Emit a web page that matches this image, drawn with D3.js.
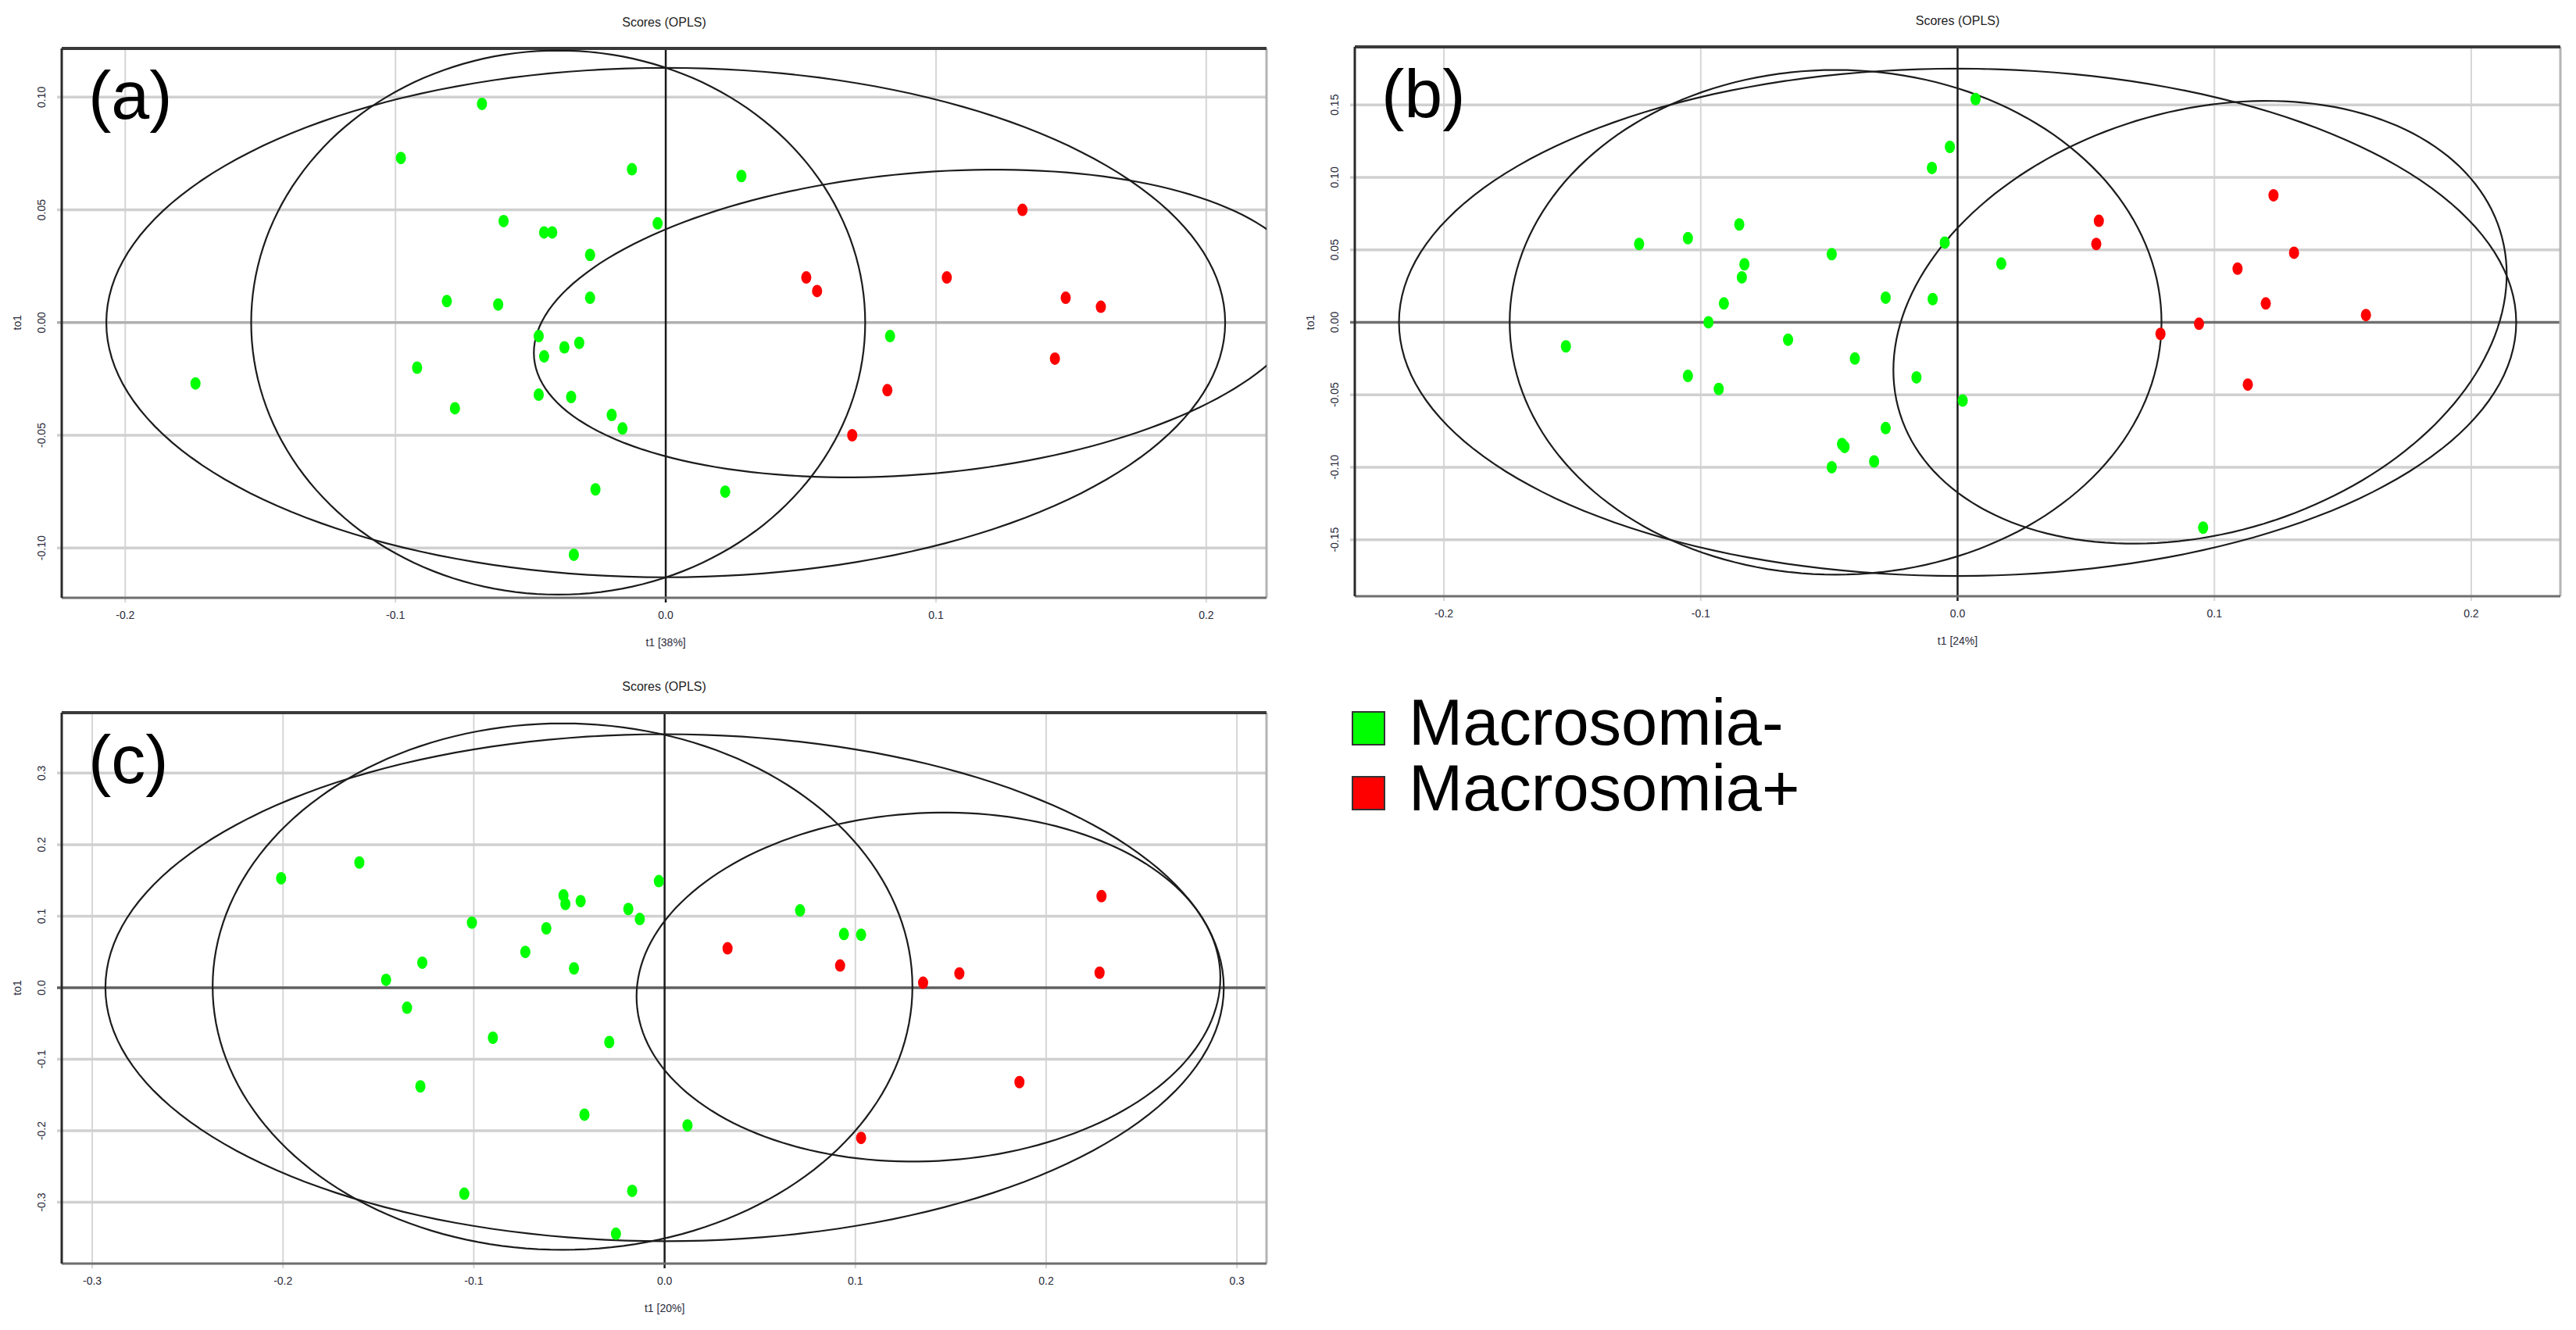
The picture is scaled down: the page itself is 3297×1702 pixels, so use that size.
<!DOCTYPE html>
<html>
<head>
<meta charset="utf-8">
<script src="https://cdn.jsdelivr.net/npm/d3@7"></script>
<style>
  html, body { margin: 0; padding: 0; background: #fff; }
  svg { display: block; font-family: "Liberation Sans", Arial, sans-serif; }
</style>
</head>
<body>
<div id="chart"></div>
<script>
// ---- data (t1, to1 scores) ----
const aGreen = [[-0.068,0.097],[-0.098,0.073],[-0.0125,0.068],[0.028,0.065],[-0.060,0.045],[-0.045,0.040],
  [-0.042,0.040],[-0.003,0.044],[-0.028,0.030],[-0.081,0.0095],[-0.062,0.008],[-0.028,0.011],[-0.047,-0.006],
  [-0.0375,-0.011],[-0.032,-0.009],[-0.045,-0.015],[-0.092,-0.020],[-0.174,-0.027],[-0.078,-0.038],
  [-0.047,-0.032],[-0.035,-0.033],[-0.020,-0.041],[-0.016,-0.047],[0.083,-0.006],[-0.026,-0.074],
  [0.022,-0.075],[-0.034,-0.103]];
const aRed = [[0.132,0.050],[0.052,0.020],[0.056,0.014],[0.104,0.020],[0.148,0.011],[0.161,0.007],
  [0.144,-0.016],[0.082,-0.030],[0.069,-0.050]];

const bGreen = [[0.007,0.154],[-0.003,0.121],[-0.010,0.1065],[-0.085,0.0675],[-0.105,0.058],[-0.124,0.054],
  [-0.005,0.055],[-0.049,0.047],[-0.083,0.040],[0.017,0.0405],[-0.084,0.031],[-0.091,0.013],[-0.028,0.017],
  [-0.0097,0.016],[-0.097,0.000],[-0.1525,-0.0166],[-0.066,-0.012],[-0.040,-0.025],[-0.105,-0.037],
  [-0.093,-0.046],[-0.016,-0.038],[0.002,-0.054],[-0.028,-0.073],[-0.045,-0.084],[-0.044,-0.086],
  [-0.049,-0.100],[-0.0325,-0.096],[0.0956,-0.1417]];
const bRed = [[0.123,0.0876],[0.055,0.070],[0.054,0.054],[0.131,0.048],[0.109,0.037],[0.120,0.013],
  [0.159,0.005],[0.079,-0.008],[0.094,-0.001],[0.113,-0.043]];

const cGreen = [[-0.201,0.153],[-0.160,0.175],[-0.003,0.149],[-0.053,0.129],[-0.052,0.117],[-0.044,0.121],
  [-0.019,0.110],[-0.013,0.096],[-0.101,0.091],[-0.062,0.083],[0.071,0.108],[0.094,0.075],[0.103,0.074],
  [-0.073,0.050],[-0.127,0.035],[-0.0475,0.027],[-0.146,0.011],[-0.135,-0.028],[-0.090,-0.070],
  [-0.029,-0.076],[-0.128,-0.138],[-0.042,-0.1775],[0.012,-0.1925],[-0.105,-0.288],[-0.017,-0.284],
  [-0.0255,-0.344]];
const cRed = [[0.229,0.128],[0.033,0.055],[0.092,0.031],[0.1545,0.020],[0.228,0.021],[0.1355,0.007],
  [0.186,-0.132],[0.103,-0.210]];

// ellipses: centre (cx,cy), horizontal half-extent ux with its y offset uy, vertical conjugate vy
const aEllipses = [
  { cx: 0.0, cy: 0.0, ux: 0.207, uy: 0.0, vy: 0.113 },
  { cx: -0.0398, cy: 0.0, ux: 0.1136, uy: 0.0, vy: 0.1207 },
  { cx: 0.0945, cy: -0.0004, ux: 0.1433, uy: 0.0130, vy: 0.0670 }
];
const bEllipses = [
  { cx: 0.0, cy: 0.0, ux: 0.2175, uy: 0.0, vy: 0.175 },
  { cx: -0.0475, cy: 0.0, ux: 0.1269, uy: 0.0, vy: 0.1741 },
  { cx: 0.0944, cy: 0.0, ux: 0.1194, uy: 0.0331, vy: 0.1491 }
];
const cEllipses = [
  { cx: 0.0, cy: 0.0, ux: 0.2931, uy: 0.0, vy: 0.3544 },
  { cx: -0.0535, cy: 0.0015, ux: 0.1834, uy: 0.0, vy: 0.368 },
  { cx: 0.1383, cy: 0.0009, ux: 0.153, uy: 0.0132, vy: 0.2436 }
];

const abXTicks = [-0.2, -0.1, 0.0, 0.1, 0.2];
const aYTicks = [-0.10, -0.05, 0.00, 0.05, 0.10];
const bYTicks = [-0.15, -0.10, -0.05, 0.00, 0.05, 0.10, 0.15];
const cXTicks = [-0.3, -0.2, -0.1, 0.0, 0.1, 0.2, 0.3];
const cYTicks = [-0.3, -0.2, -0.1, 0.0, 0.1, 0.2, 0.3];

const xTitles = ["t1 [38%]", "t1 [24%]", "t1 [20%]"];
const legendLabels = ["Macrosomia-", "Macrosomia+"];

// ---- layout ----
const W = 3297, H = 1702;
const GREEN = "#00ff00", RED = "#ff0000";

const panels = [
  { tag: "(a)", box: { l: 79, t: 62, r: 1621, b: 765 }, xd: [-0.2235, 0.2223], yd: [-0.1221, 0.1216],
    xt: abXTicks, yt: aYTicks, yfmt: ".2f", xTitle: xTitles[0], zeroY: "#b0b0b0",
    green: aGreen, red: aRed, ells: aEllipses },
  { tag: "(b)", box: { l: 1734, t: 60, r: 3277, b: 763 }, xd: [-0.2347, 0.2347], yd: [-0.189, 0.190],
    xt: abXTicks, yt: bYTicks, yfmt: ".2f", xTitle: xTitles[1], zeroY: "#707070",
    green: bGreen, red: bRed, ells: bEllipses },
  { tag: "(c)", box: { l: 79, t: 912, r: 1621, b: 1617 }, xd: [-0.316, 0.3155], yd: [-0.3857, 0.3845],
    xt: cXTicks, yt: cYTicks, yfmt: ".1f", xTitle: xTitles[2], zeroY: "#606060",
    green: cGreen, red: cRed, ells: cEllipses }
];

const svg = d3.select("#chart").append("svg")
  .attr("width", W).attr("height", H)
  .attr("viewBox", `0 0 ${W} ${H}`);

svg.append("rect").attr("width", W).attr("height", H).attr("fill", "#fff");

panels.forEach((p, i) => drawPanel(p, i));
drawLegend();

function drawPanel(p, i) {
  const bx = p.box;
  const x = d3.scaleLinear().domain(p.xd).range([bx.l, bx.r]);
  const y = d3.scaleLinear().domain(p.yd).range([bx.b, bx.t]);
  const g = svg.append("g").attr("class", "panel");

  g.append("clipPath").attr("id", "clip" + i)
    .append("rect")
      .attr("x", bx.l).attr("y", bx.t)
      .attr("width", bx.r - bx.l).attr("height", bx.b - bx.t);

  // grid
  g.selectAll(".vgrid").data(p.xt.filter(d => d !== 0)).enter()
    .append("line")
      .attr("x1", d => x(d)).attr("x2", d => x(d))
      .attr("y1", bx.t).attr("y2", bx.b + 6)
      .attr("stroke", "#d6d6d6").attr("stroke-width", 2);

  g.selectAll(".hgrid").data(p.yt.filter(d => d !== 0)).enter()
    .append("line")
      .attr("x1", bx.l - 6).attr("x2", bx.r)
      .attr("y1", d => y(d)).attr("y2", d => y(d))
      .attr("stroke", "#d0d0d0").attr("stroke-width", 3.5);

  g.append("line")
    .attr("x1", bx.l - 6).attr("x2", bx.r)
    .attr("y1", y(0)).attr("y2", y(0))
    .attr("stroke", p.zeroY).attr("stroke-width", 3.5);

  g.append("line")
    .attr("x1", x(0)).attr("x2", x(0))
    .attr("y1", bx.t).attr("y2", bx.b + 6)
    .attr("stroke", "#1a1a1a").attr("stroke-width", 2.5);

  // frame
  g.append("line").attr("x1", bx.r).attr("x2", bx.r).attr("y1", bx.t).attr("y2", bx.b)
    .attr("stroke", "#b4b4b4").attr("stroke-width", 3);
  g.append("line").attr("x1", bx.l).attr("x2", bx.r).attr("y1", bx.b).attr("y2", bx.b)
    .attr("stroke", "#6e6e6e").attr("stroke-width", 3);
  g.append("line").attr("x1", bx.l).attr("x2", bx.r).attr("y1", bx.t).attr("y2", bx.t)
    .attr("stroke", "#3a3a3a").attr("stroke-width", 4);
  g.append("line").attr("x1", bx.l).attr("x2", bx.l).attr("y1", bx.t).attr("y2", bx.b)
    .attr("stroke", "#2a2a2a").attr("stroke-width", 3);

  // ellipses
  const line = d3.line().x(d => x(d[0])).y(d => y(d[1]));
  const steps = d3.range(0, 361, 2).map(a => a * Math.PI / 180);
  g.append("g").attr("clip-path", `url(#clip${i})`)
    .selectAll("path").data(p.ells).enter()
    .append("path")
      .attr("d", e => line(steps.map(t => [e.cx + e.ux * Math.cos(t),
                                            e.cy + e.uy * Math.cos(t) + e.vy * Math.sin(t)])))
      .attr("fill", "none")
      .attr("stroke", "#1c1c1c")
      .attr("stroke-width", 2.2);

  // points
  const pts = g.append("g").attr("clip-path", `url(#clip${i})`);
  pts.selectAll(".g").data(p.green).enter()
    .append("ellipse")
      .attr("cx", d => x(d[0])).attr("cy", d => y(d[1]))
      .attr("rx", 6.5).attr("ry", 8)
      .attr("fill", GREEN);
  pts.selectAll(".r").data(p.red).enter()
    .append("ellipse")
      .attr("cx", d => x(d[0])).attr("cy", d => y(d[1]))
      .attr("rx", 6.5).attr("ry", 8)
      .attr("fill", RED);

  // tick labels
  g.selectAll(".xl").data(p.xt).enter()
    .append("text")
      .attr("x", d => x(d)).attr("y", bx.b + 27)
      .attr("text-anchor", "middle")
      .attr("font-size", 14).attr("fill", "#2a2a3a")
      .text(d => d3.format(".1f")(d).replace("−", "-"));

  g.selectAll(".yl").data(p.yt).enter()
    .append("text")
      .attr("transform", d => `translate(${bx.l - 21},${y(d)}) rotate(-90)`)
      .attr("text-anchor", "middle")
      .attr("font-size", 14).attr("fill", "#2a2a3a")
      .text(d => d3.format(p.yfmt)(d).replace("−", "-"));

  // titles
  g.append("text")
    .attr("x", (bx.l + bx.r) / 2).attr("y", bx.t - 28)
    .attr("text-anchor", "middle").attr("font-size", 16).attr("fill", "#222")
    .text("Scores (OPLS)");

  g.append("text")
    .attr("x", x(0)).attr("y", bx.b + 62)
    .attr("text-anchor", "middle").attr("font-size", 14).attr("fill", "#2a2a3a")
    .text(p.xTitle);

  g.append("text")
    .attr("transform", `translate(${bx.l - 52},${y(0)}) rotate(-90)`)
    .attr("text-anchor", "middle").attr("font-size", 14).attr("fill", "#2a2a3a")
    .text("to1");

  g.append("text")
    .attr("x", bx.l + 34).attr("y", bx.t + 90)
    .attr("font-size", 88).attr("fill", "#000")
    .text(p.tag);
}

function drawLegend() {
  const colors = [GREEN, RED];
  const lg = svg.append("g").attr("class", "legend");
  lg.selectAll("rect").data(legendLabels).enter()
    .append("rect")
      .attr("x", 1731).attr("y", (d, i) => 911 + i * 83)
      .attr("width", 41).attr("height", 42)
      .attr("fill", (d, i) => colors[i])
      .attr("stroke", "#333").attr("stroke-width", 2);
  lg.selectAll("text").data(legendLabels).enter()
    .append("text")
      .attr("x", 1803).attr("y", (d, i) => 953 + i * 84)
      .attr("font-size", 83).attr("fill", "#000")
      .text(d => d);
}
</script>
</body>
</html>
